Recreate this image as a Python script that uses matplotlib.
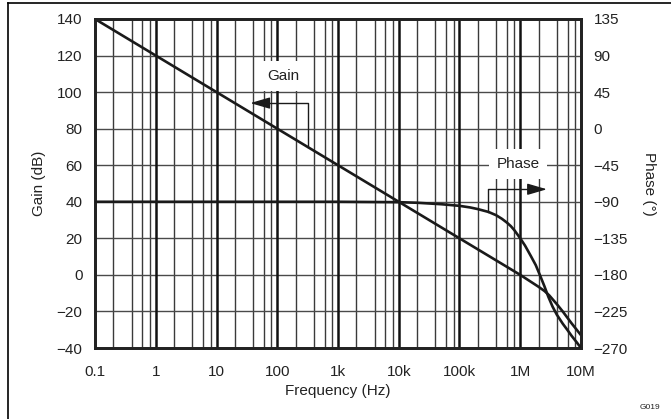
import numpy as np
import matplotlib
matplotlib.use("Agg")
import matplotlib.pyplot as plt
from matplotlib.lines import Line2D

plt.rcParams['font.family'] = ['Liberation Sans', 'DejaVu Sans']

# Data
gain_freq = [0.1, 1, 10, 100, 1e3, 1e4, 1e5, 1e6, 1.5e6, 2e6, 2.5e6, 3e6, 4e6, 5e6, 7e6, 1e7]
gain_db = [140, 120, 100, 80, 60, 40, 20, 0, -3.8, -6.5, -8.8, -11.2, -16.0, -20.0, -26.5, -33.0]

phase_freq = [0.1, 1e3, 1e4, 2e4, 5e4, 1e5, 1.5e5, 2e5, 3e5, 4e5, 5e5, 6e5, 7e5, 8e5,
              1e6, 1.2e6, 1.5e6, 1.8e6, 2.1e6, 2.5e6, 2.9e6, 3.4e6, 4e6, 5e6, 6e6, 7e6, 8.5e6, 1e7]
phase_deg = [-90, -90, -90.5, -91.2, -93, -95, -97, -99, -102.5, -106.5, -111, -115.5, -120, -125,
             -135, -144, -157, -168, -180, -194, -207, -219, -229, -240, -248, -255, -263, -270]

xticks = [0.1, 1, 10, 100, 1e3, 1e4, 1e5, 1e6, 1e7]
xticklabels = ['0.1', '1', '10', '100', '1k', '10k', '100k', '1M', '10M']
gain_ticks = list(range(-40, 141, 20))
phase_ticks = list(range(-270, 136, 45))

W, H = 671, 419
fig = plt.figure(figsize=(W / 100, H / 100), dpi=100)
ax = fig.add_axes([95 / W, 1 - 348 / H, (581 - 95) / W, (348 - 19) / H])
ax.set_xscale('log')
ax.set_xlim(0.1, 1e7)
ax.set_ylim(-40, 140)

# grid
for d in range(-1, 7):
    for m in (2, 4, 6, 8):
        ax.axvline(m * 10.0 ** d, color='#3a3a3a', lw=1.0, zorder=1)
for d in xticks[1:-1]:
    ax.axvline(d, color='#111111', lw=1.8, zorder=1.2)
for g in gain_ticks[1:-1]:
    ax.axhline(g, color='#4a4a4a', lw=1.0, zorder=1)

ax.set_xticks(xticks)
ax.set_xticklabels(xticklabels)
ax.xaxis.set_minor_locator(matplotlib.ticker.NullLocator())
ax.set_yticks(gain_ticks)
ax.tick_params(axis='both', length=0, labelsize=11, colors='#222222')
ax.tick_params(axis='x', pad=12)
ax.tick_params(axis='y', pad=9)
for s in ax.spines.values():
    s.set_linewidth(2.0)
    s.set_color('#222222')

ax.plot(gain_freq, gain_db, color='#1a1a1a', lw=1.9, zorder=3, solid_capstyle='butt')
ax.set_xlabel('Frequency (Hz)', fontsize=11, color='#222222', labelpad=4)
ax.set_ylabel('Gain (dB)', fontsize=11, color='#222222', labelpad=8)

ax2 = ax.twinx()
ax2.set_ylim(-270, 135)
ax2.set_yticks(phase_ticks)
ax2.tick_params(axis='y', length=0, labelsize=11, colors='#222222', pad=9)
for s in ax2.spines.values():
    s.set_linewidth(2.0)
    s.set_color('#222222')
ax2.plot(phase_freq, phase_deg, color='#1a1a1a', lw=1.9, zorder=3)
ax2.set_ylabel('Phase (°)', fontsize=11, color='#222222', rotation=-90, labelpad=20)

# Gain annotation (gain-axis coordinates)
gx_br, gx_tip, gy_br = 320, 36, 94
g_at = np.interp(np.log10(gx_br), np.log10(gain_freq), gain_db)
ax.plot([gx_br, gx_br, gx_tip * 1.55], [g_at, gy_br, gy_br], color='#1a1a1a', lw=1.0, zorder=4)
ax.annotate('', xy=(gx_tip, gy_br), xytext=(gx_tip * 1.8, gy_br),
            arrowprops=dict(arrowstyle='-|>,head_length=1.2,head_width=0.35', color='#1a1a1a', lw=1.0,
                            shrinkA=0, shrinkB=0), zorder=5)
ax.text(124, 108.8, 'Gain', fontsize=11, ha='center', va='center', color='#222222', zorder=6,
        bbox=dict(boxstyle='square,pad=0.55', fc='white', ec='none'))

# Phase annotation (phase-axis coordinates)
px_br, px_tip, py_br = 2.94e5, 2.75e6, -74.6
p_at = np.interp(np.log10(px_br), np.log10(phase_freq), phase_deg)
ax2.plot([px_br, px_br, px_tip / 1.6], [p_at, py_br, py_br], color='#1a1a1a', lw=1.0, zorder=4)
ax2.annotate('', xy=(px_tip, py_br), xytext=(px_tip / 1.9, py_br),
             arrowprops=dict(arrowstyle='-|>,head_length=1.2,head_width=0.35', color='#1a1a1a', lw=1.0,
                             shrinkA=0, shrinkB=0), zorder=5)
ax2.text(9.2e5, -43.5, 'Phase', fontsize=11, ha='center', va='center', color='#222222', zorder=6,
         bbox=dict(boxstyle='square,pad=0.5', fc='white', ec='none'))

# outer frame
fig.add_artist(Line2D([8 / W, 1], [1 - 3 / H, 1 - 3 / H], color='black', lw=1.2, transform=fig.transFigure))
fig.add_artist(Line2D([8 / W, 8 / W], [0, 1 - 3 / H], color='black', lw=1.2, transform=fig.transFigure))
fig.text(650 / W, 1 - 407 / H, 'G019', fontsize=6, ha='center', va='center', color='#222222')

fig.savefig('out.png', dpi=100)
